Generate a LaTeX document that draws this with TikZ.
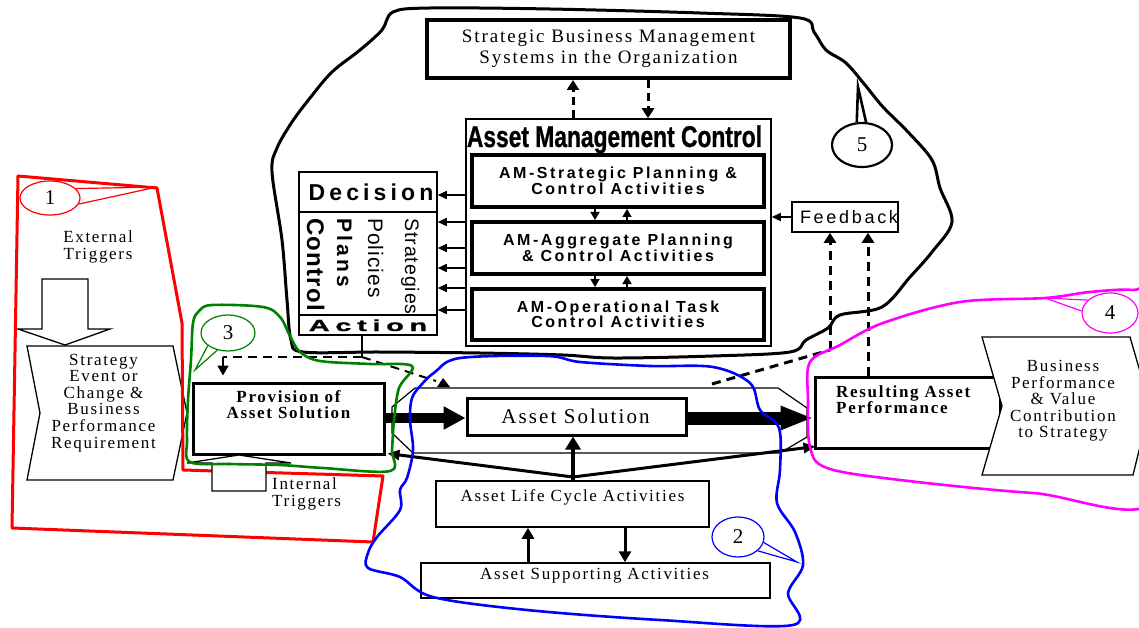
\documentclass[tikz,border=0pt]{standalone}
\usepackage{fontspec}
\setmainfont{Liberation Serif}
\newfontfamily\srf[LetterSpace=10]{Liberation Serif}
\newfontfamily\srfb[LetterSpace=10]{Liberation Serif}
\newfontfamily\amsf[LetterSpace=16]{Liberation Sans}
\newfontfamily\amcf[FakeStretch=0.76,FakeBold=0.8]{Liberation Sans}
\newfontfamily\decf[LetterSpace=18]{Liberation Sans}
\newfontfamily\actf[LetterSpace=20,FakeBold=1]{Liberation Sans}
\newfontfamily\rotf[LetterSpace=5]{Liberation Sans}
\newfontfamily\rotfb[LetterSpace=15]{Liberation Sans}
\newfontfamily\fbf[LetterSpace=15]{Liberation Sans}
\usetikzlibrary{arrows.meta,shapes.geometric,calc}
\definecolor{grn}{RGB}{0,128,0}
\definecolor{mag}{RGB}{255,0,255}
\definecolor{blu}{RGB}{0,0,255}
\definecolor{rd}{RGB}{255,0,0}
\newcommand\fsz[2]{\fontsize{#1}{#2}\selectfont}
\tikzset{
  box/.style={draw, fill=white, inner sep=0pt},
  sertext/.style={font={\srf\fsz{17}{16.6}}, align=center, inner sep=0pt},
  amtext/.style={font={\amsf\bfseries\fsz{16}{15.5}}, align=center},
  rottext/.style={inner sep=0pt, rotate=-90, anchor=base west},
  smallarr/.style={line width=1.5pt, -{Triangle[length=8pt,width=9pt]}},
  decarr/.style={line width=1.5pt, -{Triangle[length=9pt,width=8pt]}},
  dasharr/.style={line width=3pt, dash pattern=on 8pt off 5pt, -{Triangle[length=10pt,width=12pt]}},
  fanarr/.style={line width=3pt, -{Triangle[length=12pt,width=10pt]}},
  blob/.style={line width=2.6pt, line join=round},
  callout/.style={ellipse, draw, fill=white, inner sep=0pt, font={\fsz{21}{21}}},
}
\begin{document}
\begin{tikzpicture}[x=1pt,y=-1pt]
\useasboundingbox (0,0) rectangle (1139,628);
\fill[white] (0,0) rectangle (1139,628);

% hexagonal band behind Asset Solution
\draw[line width=1.2pt] (415,388) -- (778,388) -- (807,408) -- (807,437) -- (780,453) -- (413,453) -- (392,433) -- (392,407) -- cycle;

% top box
\node[box, line width=4pt, minimum width=363pt, minimum height=58pt] (sbm) at (608.5,49) {};
\node[font={\srf\fsz{19}{21}}, align=center, inner sep=0pt] (sbmt) at (608.5,48.3) {Strategic Business Management\\Systems in the Organization};

% Asset management control
\node[box, line width=1.5pt, minimum width=305pt, minimum height=227pt] (amc) at (618.5,232.5) {};
\node[font={\amcf\bfseries\fsz{30}{30}}, inner sep=0pt, anchor=base] (amct) at (614.5,147) {Asset Management Control};
\node[box, line width=4pt, minimum width=292pt, minimum height=52pt, amtext] (ams) at (618,181) {AM-Strategic Planning \&\\Control Activities};
\node[box, line width=4pt, minimum width=292pt, minimum height=52pt, amtext] (ama) at (618,248) {AM-Aggregate Planning\\\& Control Activities};
\node[box, line width=4pt, minimum width=292pt, minimum height=51pt, amtext] (amo) at (618,314.5) {AM-Operational Task\\Control Activities};

% Decision box
\node[box, line width=1.5pt, minimum width=138pt, minimum height=163pt] (dec) at (368,253.5) {};
\draw[line width=1.5pt] (dec.west |- 0,212) -- (dec.east |- 0,212);
\draw[line width=1.5pt] (dec.west |- 0,315) -- (dec.east |- 0,315);
\node[font={\decf\bfseries\fsz{23}{23}}, inner sep=0pt, anchor=base] (dect) at (371,201) {Decision};
\node[inner sep=0pt, anchor=base] (actt) at (368,331) {\scalebox{1.8}[1]{\actf\bfseries\fsz{16}{16}Action}};
\node[rottext, font={\rotf\fsz{19.5}{19.5}}] (strt) at (405,218) {Strategies};
\node[rottext, font={\rotf\fsz{21}{21}}] (polt) at (368,218) {Policies};
\node[rottext, font={\rotfb\bfseries\fsz{21}{21}}] (plat) at (337,218) {Plans};
\node[rottext, font={\rotf\bfseries\fsz{24}{24}}] (cont) at (307,218) {Control};

% Feedback
\node[box, line width=1.5pt, minimum width=106pt, minimum height=30pt] (fbk) at (845,217) {};
\node[font={\fbf\fsz{18}{18}}, inner sep=0pt, anchor=base] (fbkt) at (849,223) {Feedback};

% main row
\node[box, line width=3pt, minimum width=191pt, minimum height=71pt] (prov) at (288.5,418.5) {};
\node[font={\srfb\bfseries\fsz{17}{16.5}}, align=center, inner sep=0pt] (provt) at (288.5,404.5) {Provision of\\Asset Solution};
\node[box, line width=3pt, minimum width=219pt, minimum height=37pt] (as) at (576.5,416.5) {};
\node[font={\srf\fsz{21}{21}}, inner sep=0pt, anchor=base] (ast) at (575.5,423.5) {Asset Solution};
\node[box, line width=3pt, minimum width=185pt, minimum height=71pt] (res) at (907.5,412.5) {};
\node[font={\srfb\bfseries\fsz{17}{16.5}}, align=left, inner sep=0pt, anchor=west] (rest) at (836,399.5) {Resulting Asset\\Performance};

% Business chevron
\draw[fill=white, line width=1.3pt] (982,337) -- (1130,337) -- (1150,406) -- (1133,475) -- (982,475) -- (1002,406) -- cycle;
\node[sertext, font={\srf\fsz{17}{16.5}}] (bpt) at (1063,401) {Business\\Performance\\\& Value\\Contribution\\to Strategy};

% Strategy chevron
\draw[fill=white, line width=1.3pt] (27,346) -- (173,346) -- (187,413) -- (173,480) -- (27,480) -- (40,413) -- cycle;
\node[sertext] (set) at (103.5,402.8) {Strategy\\Event or\\Change \&\\Business\\Performance\\Requirement};

% Triggers
\draw[fill=white, line width=1.3pt] (42,279) -- (88,279) -- (88,329) -- (110,329) -- (65,345) -- (18,329) -- (42,329) -- cycle;
\node[sertext] (ext) at (98,247) {External\\Triggers};
\node[sertext, font={\srf\fsz{17}{17}}, align=left, anchor=west] (intt) at (272,493.8) {Internal\\Triggers};

% lower boxes
\node[box, line width=1.5pt, minimum width=273pt, minimum height=46pt] (alc) at (572.5,504) {};
\node[font={\srf\fsz{17}{17}}, inner sep=0pt, anchor=base] (alct) at (572.5,501) {Asset Life Cycle Activities};
\node[box, line width=1.5pt, minimum width=349pt, minimum height=35pt] (asa) at (595.5,580.5) {};
\node[font={\srf\fsz{17}{17}}, inner sep=0pt, anchor=base] (asat) at (594.5,579.5) {Asset Supporting Activities};

% ---- connectors ----
\draw[dasharr] (amc.north -| 573,0) -- (sbm.south -| 573,0);
\draw[dasharr] (sbm.south -| 648,0) -- (amc.north -| 648,0);

\foreach \yy in {195,222,248,268,288,310}
  \draw[decarr] (amc.west |- 0,\yy) -- (dec.east |- 0,\yy);

\draw[smallarr] (ams.south -| 595,0) -- (ama.north -| 595,0);
\draw[smallarr] (ama.north -| 627,0) -- (ams.south -| 627,0);
\draw[smallarr] (ama.south -| 595,0) -- (amo.north -| 595,0);
\draw[smallarr] (amo.north -| 627,0) -- (ama.south -| 627,0);

\draw[decarr] (fbk.west) -- (amc.east |- fbk.west);

\coordinate (fa) at (712,384);
\coordinate (fb) at (830,350);
\draw[line width=3pt, dash pattern=on 9pt off 6pt] (fa) -- (fb);
\draw[dasharr, dash pattern=on 9pt off 6pt] (fb) -- (fbk.south -| fb);
\draw[dasharr, dash pattern=on 9pt off 6pt] (res.north -| 868,0) -- (fbk.south -| 868,0);

% Action to provision
\coordinate (aj) at (362,357);
\coordinate (ac) at (223,357);
\coordinate (ad) at (436,381);
\draw[line width=2pt] (dec.south -| aj) -- (aj);
\draw[line width=2pt, dash pattern=on 9pt off 6pt] (aj) -- (ac);
\draw[line width=2pt, -{Triangle[length=10pt,width=11pt]}, shorten >=6pt] (ac) -- (prov.north -| ac);
\draw[line width=2pt, dash pattern=on 9pt off 6pt] (aj) -- (ad);
\fill (437,387) -- (443,378) -- (450,387) -- cycle;

% big arrows
\draw[line width=10pt, -{Triangle[length=22pt,width=22pt]}] (prov.east |- 0,418) -- (as.west |- 0,418);
\draw[line width=13pt, -{Triangle[length=33pt,width=22pt]}] (as.east |- 0,418) -- (res.west |- 0,418);

% from life cycle
\coordinate (j) at (573,477);
\draw[line width=4.5pt, -{Triangle[length=13pt,width=15pt]}] (alc.north -| j) -- (as.south -| j);
\draw[fanarr] (j) -- ($(prov.south east)+(2,-2)$);
\draw[fanarr] (j) -- ($(res.south west)+(2,-3)$);
\draw[line width=3pt, -{Triangle[length=11pt,width=12pt]}] (asa.north -| 528,0) -- (alc.south -| 528,0);
\draw[line width=3pt, -{Triangle[length=11pt,width=12pt]}] (alc.south -| 625,0) -- (asa.north -| 625,0);

% ---- hand-drawn regions ----
\draw[blob, black, line width=3pt] plot[smooth cycle, tension=0.55] coordinates {(272,172) (277,148) (292,122) (310,98) (332,72) (360,50) (382,30) (393,12) (430,8) (550,9) (700,13) (800,18) (814,32) (826,50) (846,63) (865,85) (883,107) (908,132) (932,160) (940,188) (952,222) (932,252) (910,277) (882,307) (840,315) (828,328) (806,340) (790,352) (713,356) (613,358) (563,355) (480,353) (380,352) (303,352) (291,340) (287,300) (282,240)};

\draw[rd, line width=3pt, line join=round] (18,176) -- (157,188) -- (182,323) -- (183,470) -- (383,476) -- (373,542) -- (12,528) -- cycle;
% internal trigger arrow over the red outline
\draw[fill=white, line width=1.3pt] (212,491) -- (266,491) -- (266,463) -- (291,463) -- (239,455) -- (187,463) -- (212,463) -- cycle;

\draw[blob, grn] plot[smooth cycle, tension=0.55] coordinates {(193,323) (199,311) (212,305) (263,307) (280,317) (290,336) (300,352) (320,361) (370,364) (412,366) (399,388) (394,420) (392,450) (390,471) (323,468) (280,465) (230,464) (190,462) (187,440) (188,400) (191,360)};

\draw[blob, blu] plot[smooth cycle, tension=0.55] coordinates {(400,490) (407,478) (413,450) (410,420) (412,398) (422,384) (435,372) (460,358) (547,356) (580,362) (650,366) (713,367) (750,383) (760,410) (779,428) (780,470) (777,503) (795,532) (803,565) (788,593) (793,625) (660,620) (527,610) (433,597) (400,577) (368,568) (368,553) (377,537) (400,510)};

\draw[blob, mag] plot[smooth cycle, tension=0.55] coordinates {(810,362) (840,345) (883,323) (960,302) (1045,298) (1090,292) (1133,290) (1160,300) (1160,497) (1033,493) (900,480) (827,468) (810,447) (808,400)};

% callouts
\coordinate (t1) at (157,187);
\node[callout, draw=rd, line width=1.2pt, minimum width=60pt, minimum height=34pt] (c1) at (50,198) {1};
\draw[rd, line width=1.2pt] (c1.20) -- (t1) -- (c1.-12);
\coordinate (t2) at (797,562);
\node[callout, draw=blu, line width=1.2pt, minimum width=52pt, minimum height=40pt] (c2) at (738,537) {2};
\draw[blu, line width=1.2pt] (c2.-12) -- (t2) -- (c2.-35);
\coordinate (t3) at (195,370);
\node[callout, draw=grn, line width=1.2pt, minimum width=54pt, minimum height=36pt] (c3) at (228,333) {3};
\draw[grn, line width=1.2pt] (c3.212) -- (t3) -- (c3.238);
\coordinate (t4) at (1045,298);
\node[callout, draw=mag, line width=1.2pt, minimum width=56pt, minimum height=40pt] (c4) at (1110,313) {4};
\draw[mag, line width=1.2pt] (c4.150) -- (t4) -- (c4.176);
\coordinate (t5) at (858,87);
\node[callout, line width=2.2pt, minimum width=60pt, minimum height=44pt] (c5) at (862,145) {5};
\draw[line width=2.6pt, line join=miter] (c5.103) -- (t5) -- (c5.80);
\end{tikzpicture}
\end{document}
